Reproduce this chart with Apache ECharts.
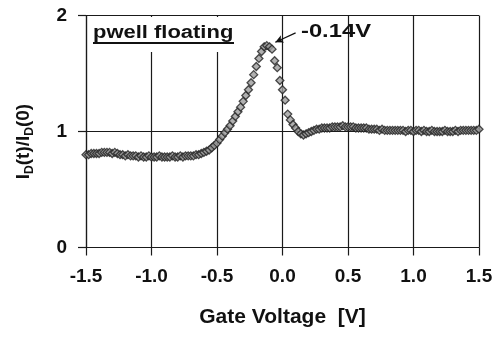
<!DOCTYPE html>
<html>
<head>
<meta charset="utf-8">
<script src="https://cdn.jsdelivr.net/npm/echarts@6/dist/echarts.min.js"></script>
<style>
  html, body { margin: 0; padding: 0; background: #fff; }
  #chart { width: 498px; height: 337px; }
</style>
</head>
<body>
<div id="chart"></div>
<script>
// Gate voltage sweep (V)
const gateVoltage = [
  -1.50, -1.48, -1.46, -1.44, -1.42, -1.40, -1.38, -1.36, -1.34, -1.32,
  -1.30, -1.28, -1.26, -1.24, -1.22, -1.20, -1.18, -1.16, -1.14, -1.12,
  -1.10, -1.08, -1.06, -1.04, -1.02, -1.00, -0.98, -0.96, -0.94, -0.92,
  -0.90, -0.88, -0.86, -0.84, -0.82, -0.80, -0.78, -0.76, -0.74, -0.72,
  -0.70, -0.68, -0.66, -0.64, -0.62, -0.60, -0.58, -0.56, -0.54, -0.52,
  -0.50, -0.48, -0.46, -0.44, -0.42, -0.40, -0.38, -0.36, -0.34, -0.32,
  -0.30, -0.28, -0.26, -0.24, -0.22, -0.20, -0.18, -0.16, -0.14, -0.12,
  -0.10, -0.08, -0.06, -0.04, -0.02, 0.00, 0.02, 0.04, 0.06, 0.08,
  0.10, 0.12, 0.14, 0.16, 0.18, 0.20, 0.22, 0.24, 0.26, 0.28,
  0.30, 0.32, 0.34, 0.36, 0.38, 0.40, 0.42, 0.44, 0.46, 0.48,
  0.50, 0.52, 0.54, 0.56, 0.58, 0.60, 0.62, 0.64, 0.66, 0.68,
  0.70, 0.72, 0.74, 0.76, 0.78, 0.80, 0.82, 0.84, 0.86, 0.88,
  0.90, 0.92, 0.94, 0.96, 0.98, 1.00, 1.02, 1.04, 1.06, 1.08,
  1.10, 1.12, 1.14, 1.16, 1.18, 1.20, 1.22, 1.24, 1.26, 1.28,
  1.30, 1.32, 1.34, 1.36, 1.38, 1.40, 1.42, 1.44, 1.46, 1.48,
  1.50
];

// Normalised drain current I_D(t)/I_D(0) at each gate voltage
const currentRatio = [
  0.80, 0.80, 0.81, 0.81, 0.81, 0.81, 0.82, 0.82, 0.82, 0.82,
  0.81, 0.82, 0.81, 0.80, 0.80, 0.79, 0.80, 0.79, 0.79, 0.79,
  0.78, 0.79, 0.78, 0.78, 0.79, 0.78, 0.78, 0.78, 0.79, 0.78,
  0.78, 0.78, 0.78, 0.79, 0.78, 0.78, 0.79, 0.78, 0.79, 0.79,
  0.79, 0.79, 0.80, 0.80, 0.81, 0.82, 0.83, 0.84, 0.86, 0.88,
  0.90, 0.93, 0.96, 0.99, 1.02, 1.05, 1.09, 1.13, 1.17, 1.21,
  1.26, 1.31, 1.36, 1.42, 1.49, 1.56, 1.63, 1.69, 1.73, 1.74,
  1.73, 1.71, 1.61, 1.55, 1.44, 1.36, 1.27, 1.15, 1.10, 1.06,
  1.03, 1.00, 0.98, 0.97, 0.98, 0.99, 1.00, 1.01, 1.02, 1.02,
  1.03, 1.03, 1.03, 1.03, 1.04, 1.04, 1.04, 1.04, 1.05, 1.04,
  1.04, 1.04, 1.04, 1.03, 1.03, 1.03, 1.03, 1.03, 1.02, 1.02,
  1.02, 1.02, 1.01, 1.02, 1.01, 1.01, 1.01, 1.01, 1.01, 1.01,
  1.01, 1.01, 1.00, 1.01, 1.01, 1.00, 1.01, 1.01, 1.00, 1.01,
  1.00, 1.00, 1.01, 1.00, 1.00, 1.00, 1.00, 1.01, 1.00, 1.00,
  1.00, 1.01, 1.00, 1.01, 1.01, 1.01, 1.01, 1.01, 1.01, 1.01,
  1.02
];

const xTicks = { min: -1.5, max: 1.5, step: 0.5 };
const yTicks = { min: 0, max: 2, step: 1 };

// Arrow from the "-0.14V" note to the peak point
const peakArrow = { from: [0.10, 1.85], to: [-0.055, 1.77] };

const FONT = '"Liberation Sans", Arial, sans-serif';
const INK = '#111';
const GRID = '#1a1a1a';

const points = gateVoltage.map((v, i) => [v, currentRatio[i]]);

const chart = echarts.init(document.getElementById('chart'), null, { renderer: 'canvas' });

chart.setOption({
  animation: false,
  backgroundColor: '#fff',
  grid: { left: 86, right: 19, top: 15.5, bottom: 89.5, containLabel: false },
  xAxis: {
    type: 'value',
    min: xTicks.min,
    max: xTicks.max,
    interval: xTicks.step,
    name: 'Gate Voltage  [V]',
    nameLocation: 'middle',
    nameGap: 59,
    nameTextStyle: { fontFamily: FONT, fontWeight: 'bold', fontSize: 21, color: INK },
    axisLine: { show: true, onZero: false, lineStyle: { color: GRID, width: 1.2 } },
    axisTick: { show: true, inside: false, length: 8, lineStyle: { color: GRID, width: 1.2 } },
    axisLabel: {
      margin: 20,
      fontFamily: FONT, fontWeight: 'bold', fontSize: 19, color: INK,
      formatter: v => v.toFixed(1)
    },
    splitLine: { show: true, lineStyle: { color: GRID, width: 1.2 } }
  },
  yAxis: {
    type: 'value',
    min: yTicks.min,
    max: yTicks.max,
    interval: yTicks.step,
    name: '{i|I}{s|D}{i|(t)/I}{s|D}{i|(0)}',
    nameLocation: 'middle',
    nameGap: 50,
    nameRotate: 90,
    nameTextStyle: {
      padding: [0, 20, 0, 0],
      rich: {
        i: { fontFamily: FONT, fontWeight: 'bold', fontSize: 19, color: INK, lineHeight: 24 },
        s: { fontFamily: FONT, fontWeight: 'bold', fontSize: 12, color: INK, lineHeight: 24,
             verticalAlign: 'bottom', padding: [9, 0, 0, 0] }
      }
    },
    axisLine: { show: true, onZero: false, lineStyle: { color: GRID, width: 1.2 } },
    axisTick: { show: true, inside: false, length: 8, lineStyle: { color: GRID, width: 1.2 } },
    axisLabel: { margin: 19, fontFamily: FONT, fontWeight: 'bold', fontSize: 19, color: INK },
    splitLine: { show: true, lineStyle: { color: GRID, width: 1.2 } }
  },
  series: [{
    type: 'scatter',
    data: points,
    symbol: 'diamond',
    symbolSize: 8,
    itemStyle: { color: '#9c9c9c', borderColor: '#222', borderWidth: 1.3 },
    markLine: {
      silent: true,
      symbol: ['none', 'arrow'],
      symbolSize: [6, 8],
      label: { show: false },
      lineStyle: { color: INK, width: 1.2, type: 'solid' },
      data: [[{ coord: peakArrow.from }, { coord: peakArrow.to }]]
    },
    z: 3
  }],
  graphic: [
    { type: 'rect', x: 88, y: 17, shape: { width: 152, height: 35 }, style: { fill: '#fff' }, z: 10 },
    { type: 'text', x: 93, y: 24, scaleX: 1.22,
      style: { text: 'pwell floating', font: 'bold 18px ' + FONT, fill: INK, verticalAlign: 'top' }, z: 11 },
    { type: 'line', shape: { x1: 93, y1: 43, x2: 234, y2: 43 }, style: { stroke: INK, lineWidth: 2 }, z: 11 },
    { type: 'text', x: 301, y: 22, scaleX: 1.25,
      style: { text: '-0.14V', font: 'bold 19px ' + FONT, fill: INK, verticalAlign: 'top' }, z: 11 }
  ]
});
</script>
</body>
</html>
